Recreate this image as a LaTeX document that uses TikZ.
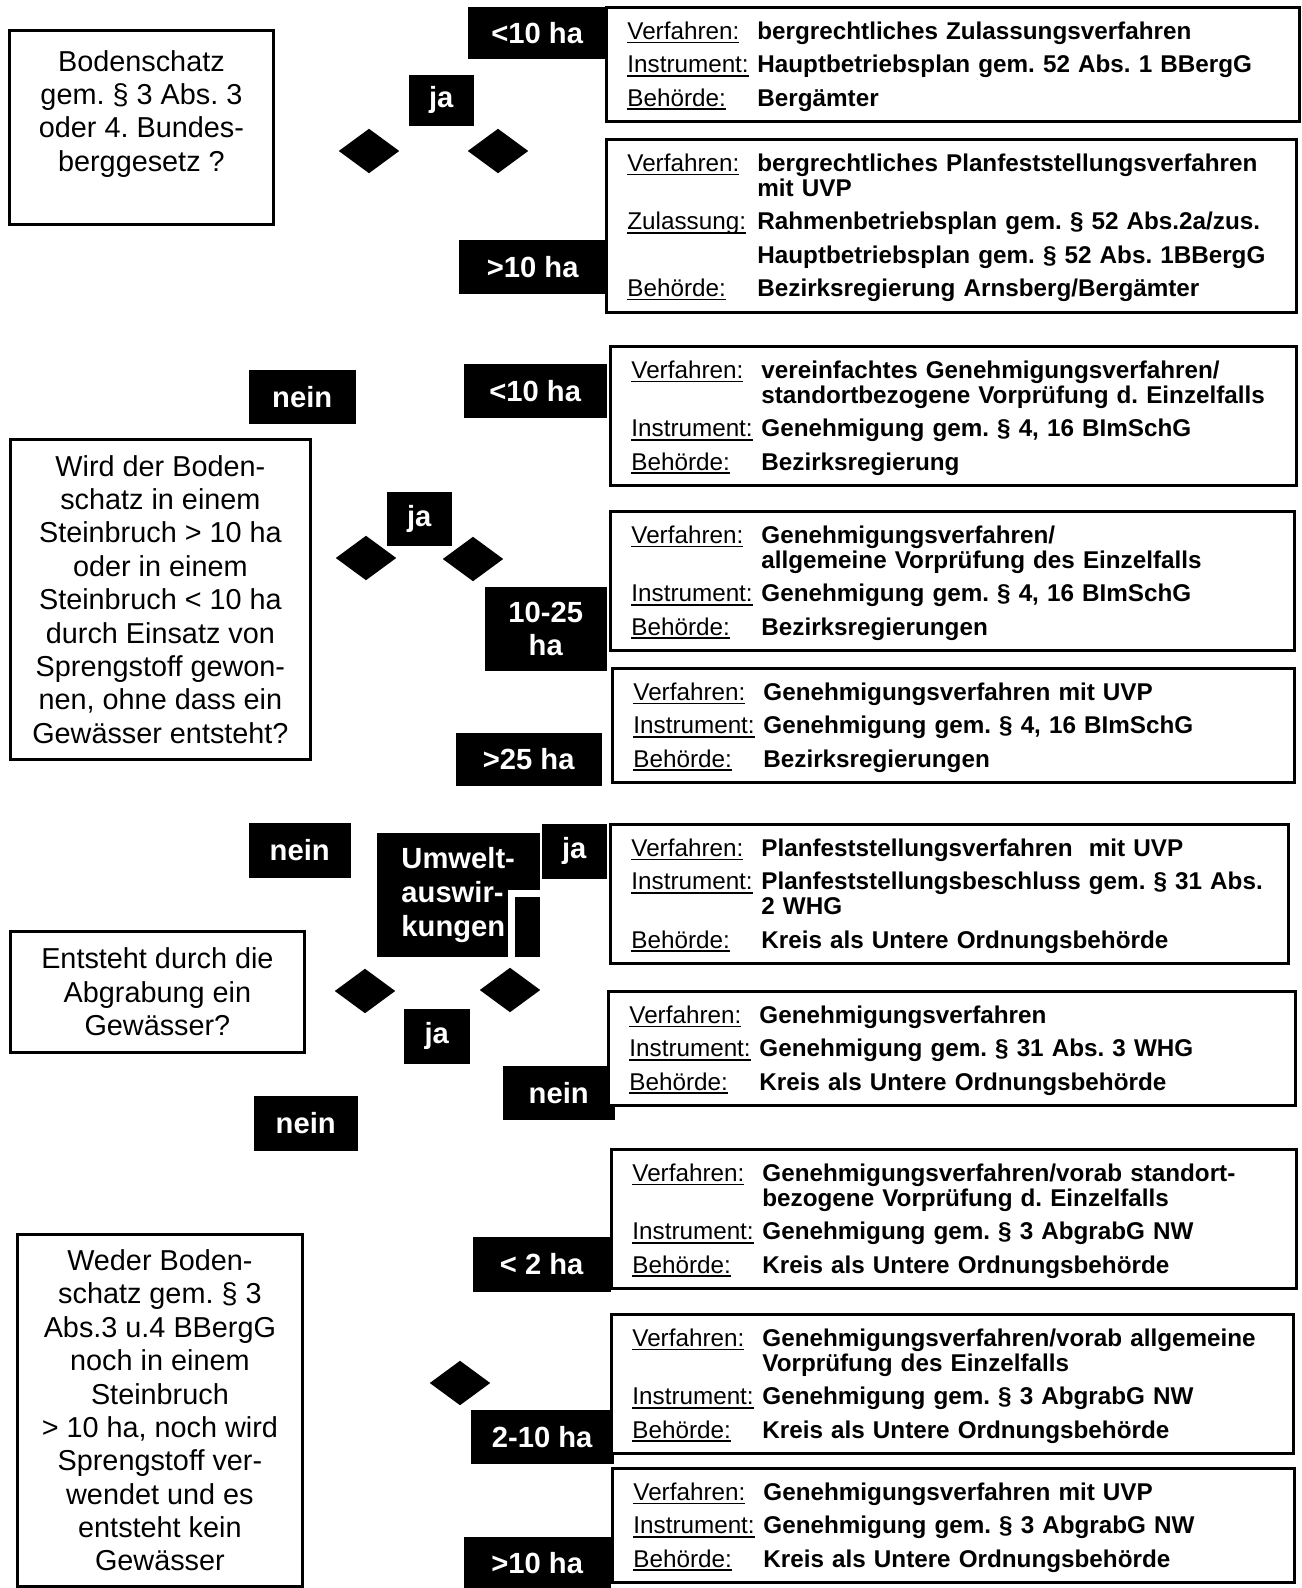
\documentclass[tikz,border=0pt]{standalone}
\usepackage{fontspec}
\setmainfont{Liberation Sans}
\usetikzlibrary{shapes.geometric}
\frenchspacing

% underlined field name in front of each entry
\newcommand{\feld}[1]{\makebox[1.3cm][l]{\mdseries\setbox0\hbox{#1}\rlap{\rule[-1.1pt]{\wd0}{0.45pt}}\box0}}
\newcommand{\kopf}{\rule{0pt}{6.1pt}}

\begin{document}
\begin{tikzpicture}[
    frage/.style={draw, line width=0.8pt, anchor=north west, align=center, font=\fontsize{8.2pt}{9.5pt}\selectfont},
    antwort/.style={draw, fill=white, line width=0.8pt, anchor=north west, align=left, text width=#1,
      inner xsep=0.21cm, inner ysep=3pt, font=\fontsize{6.9pt}{7.1pt}\selectfont\bfseries},
    etikett/.style={fill=black, text=white, anchor=north west, inner sep=0pt, align=center,
      font=\fontsize{8.3pt}{9.3pt}\selectfont\bfseries},
    raute/.style={diamond, fill=black, inner sep=0pt, minimum width=0.61cm, minimum height=0.45cm}]
    \useasboundingbox (0,0) rectangle (13.01,-15.88);

    % Questions
    \node[frage, minimum width=2.64cm, minimum height=1.94cm] (q1) at (0.08,-0.29)
      {Bodenschatz\\gem. § 3 Abs. 3\\oder 4. Bundes-\\berggesetz ?\\\mbox{}};
    \node[frage, minimum width=3.00cm, minimum height=3.20cm] (q2) at (0.09,-4.38)
      {Wird der Boden-\\schatz in einem\\Steinbruch > 10 ha\\oder in einem\\Steinbruch < 10 ha\\durch Einsatz von\\Sprengstoff gewon-\\nen, ohne dass ein\\Gewässer entsteht?};
    \node[frage, minimum width=2.94cm, minimum height=1.21cm] (q3) at (0.09,-9.30)
      {Entsteht durch die\\Abgrabung ein\\Gewässer?};
    \node[frage, minimum width=2.85cm, minimum height=3.52cm] (q4) at (0.16,-12.33)
      {Weder Boden-\\schatz gem. § 3\\Abs.3 u.4 BBergG\\noch in einem\\Steinbruch\\> 10 ha, noch wird\\Sprengstoff ver-\\wendet und es\\entsteht kein\\Gewässer};

    % Decision diamonds
    \node[raute] (d1) at (3.69,-1.51) {};
    \node[raute] (d2) at (4.98,-1.51) {};
    \node[raute] (d3) at (3.66,-5.58) {};
    \node[raute] (d4) at (4.73,-5.59) {};
    \node[raute] (d5) at (3.65,-9.91) {};
    \node[raute] (d6) at (5.10,-9.90) {};
    \node[raute] (d7) at (4.60,-13.83) {};

    % Black labels
    \node[etikett, minimum width=1.39cm, minimum height=0.52cm] (t1) at (4.67,-0.06) {<10 ha};
    \node[etikett, minimum width=0.65cm, minimum height=0.51cm] (t2) at (4.08,-0.74) {ja};
    \node[etikett, minimum width=1.48cm, minimum height=0.54cm] (t3) at (4.58,-2.39) {>10 ha};
    \node[etikett, minimum width=1.07cm, minimum height=0.54cm] (t4) at (2.48,-3.69) {nein};
    \node[etikett, minimum width=1.43cm, minimum height=0.54cm] (t5) at (4.63,-3.63) {<10 ha};
    \node[etikett, minimum width=0.65cm, minimum height=0.54cm] (t6) at (3.86,-4.91) {ja};
    \node[etikett, minimum width=1.22cm, minimum height=0.84cm] (t7) at (4.84,-5.86) {10-25\\ha};
    \node[etikett, minimum width=1.46cm, minimum height=0.53cm] (t8) at (4.55,-7.32) {>25 ha};
    \node[etikett, minimum width=1.02cm, minimum height=0.55cm] (t9) at (2.48,-8.22) {nein};
    \node[etikett, align=left, minimum width=1.63cm, minimum height=1.24cm,
      font=\fontsize{8.3pt}{9.7pt}\selectfont\bfseries] (umwelt) at (3.76,-8.32) {Umwelt-\\auswir-\\kungen};
    \fill[white] ([xshift=-3.2mm,yshift=-5.8mm]umwelt.north east) rectangle ([yshift=-6.5mm]umwelt.north east);
    \fill[white] ([xshift=-3.2mm,yshift=-6.5mm]umwelt.north east) rectangle ([xshift=-2.5mm]umwelt.south east);
    \node[etikett, minimum width=0.65cm, minimum height=0.55cm] (t10) at (5.41,-8.23) {ja};
    \node[etikett, minimum width=0.66cm, minimum height=0.55cm] (t11) at (4.03,-10.08) {ja};
    \node[etikett, minimum width=1.12cm, minimum height=0.54cm] (t12) at (5.02,-10.65) {nein};
    \node[etikett, minimum width=1.04cm, minimum height=0.55cm] (t13) at (2.53,-10.95) {nein};
    \node[etikett, minimum width=1.38cm, minimum height=0.55cm] (t14) at (4.72,-12.36) {< 2 ha};
    \node[etikett, minimum width=1.43cm, minimum height=0.54cm] (t15) at (4.70,-14.09) {2-10 ha};
    \node[etikett, minimum width=1.47cm, minimum height=0.52cm] (t16) at (4.63,-15.36) {>10 ha};

    % Procedures
    \node[antwort=6.51cm] (a1) at (6.05,-0.06)
      {\kopf\feld{Verfahren:}bergrechtliches Zulassungsverfahren\\[2.4pt]
       \feld{Instrument:}Hauptbetriebsplan gem. 52 Abs. 1 BBergG\\[2.4pt]
       \feld{Behörde:}Bergämter};
    \node[antwort=6.48cm] (a2) at (6.05,-1.38)
      {\kopf\feld{Verfahren:}bergrechtliches Planfeststellungsverfahren\\
       \hspace*{1.3cm}mit UVP\\[2.4pt]
       \feld{Zulassung:}Rahmenbetriebsplan gem. § 52 Abs.2a/zus.\\[2.4pt]
       \hspace*{1.3cm}Hauptbetriebsplan gem. § 52 Abs. 1BBergG\\[2.4pt]
       \feld{Behörde:}Bezirksregierung Arnsberg/Bergämter};
    \node[antwort=6.44cm] (a3) at (6.09,-3.45)
      {\kopf\feld{Verfahren:}vereinfachtes Genehmigungsverfahren/\\
       \hspace*{1.3cm}standortbezogene Vorprüfung d. Einzelfalls\\[2.4pt]
       \feld{Instrument:}Genehmigung gem. § 4, 16 BImSchG\\[2.4pt]
       \feld{Behörde:}Bezirksregierung};
    \node[antwort=6.42cm] (a4) at (6.09,-5.10)
      {\kopf\feld{Verfahren:}Genehmigungsverfahren/\\
       \hspace*{1.3cm}allgemeine Vorprüfung des Einzelfalls\\[2.4pt]
       \feld{Instrument:}Genehmigung gem. § 4, 16 BImSchG\\[2.4pt]
       \feld{Behörde:}Bezirksregierungen};
    \node[antwort=6.40cm] (a5) at (6.11,-6.67)
      {\kopf\feld{Verfahren:}Genehmigungsverfahren mit UVP\\[2.4pt]
       \feld{Instrument:}Genehmigung gem. § 4, 16 BImSchG\\[2.4pt]
       \feld{Behörde:}Bezirksregierungen};
    \node[antwort=6.36cm] (a6) at (6.09,-8.23)
      {\kopf\feld{Verfahren:}Planfeststellungsverfahren\ \ mit UVP\\[2.4pt]
       \feld{Instrument:}Planfeststellungsbeschluss gem. § 31 Abs.\\
       \hspace*{1.3cm}2 WHG\\[2.4pt]
       \feld{Behörde:}Kreis als Untere Ordnungsbehörde};
    \node[antwort=6.45cm] (a7) at (6.07,-9.90)
      {\kopf\feld{Verfahren:}Genehmigungsverfahren\\[2.4pt]
       \feld{Instrument:}Genehmigung gem. § 31 Abs. 3 WHG\\[2.4pt]
       \feld{Behörde:}Kreis als Untere Ordnungsbehörde};
    \node[antwort=6.43cm] (a8) at (6.10,-11.48)
      {\kopf\feld{Verfahren:}Genehmigungsverfahren/vorab standort-\\
       \hspace*{1.3cm}bezogene Vorprüfung d. Einzelfalls\\[2.4pt]
       \feld{Instrument:}Genehmigung gem. § 3 AbgrabG NW\\[2.4pt]
       \feld{Behörde:}Kreis als Untere Ordnungsbehörde};
    \node[antwort=6.40cm] (a9) at (6.10,-13.13)
      {\kopf\feld{Verfahren:}Genehmigungsverfahren/vorab allgemeine\\
       \hspace*{1.3cm}Vorprüfung des Einzelfalls\\[2.4pt]
       \feld{Instrument:}Genehmigung gem. § 3 AbgrabG NW\\[2.4pt]
       \feld{Behörde:}Kreis als Untere Ordnungsbehörde};
    \node[antwort=6.40cm] (a10) at (6.11,-14.67)
      {\kopf\feld{Verfahren:}Genehmigungsverfahren mit UVP\\[2.4pt]
       \feld{Instrument:}Genehmigung gem. § 3 AbgrabG NW\\[2.4pt]
       \feld{Behörde:}Kreis als Untere Ordnungsbehörde};
\end{tikzpicture}
\end{document}
